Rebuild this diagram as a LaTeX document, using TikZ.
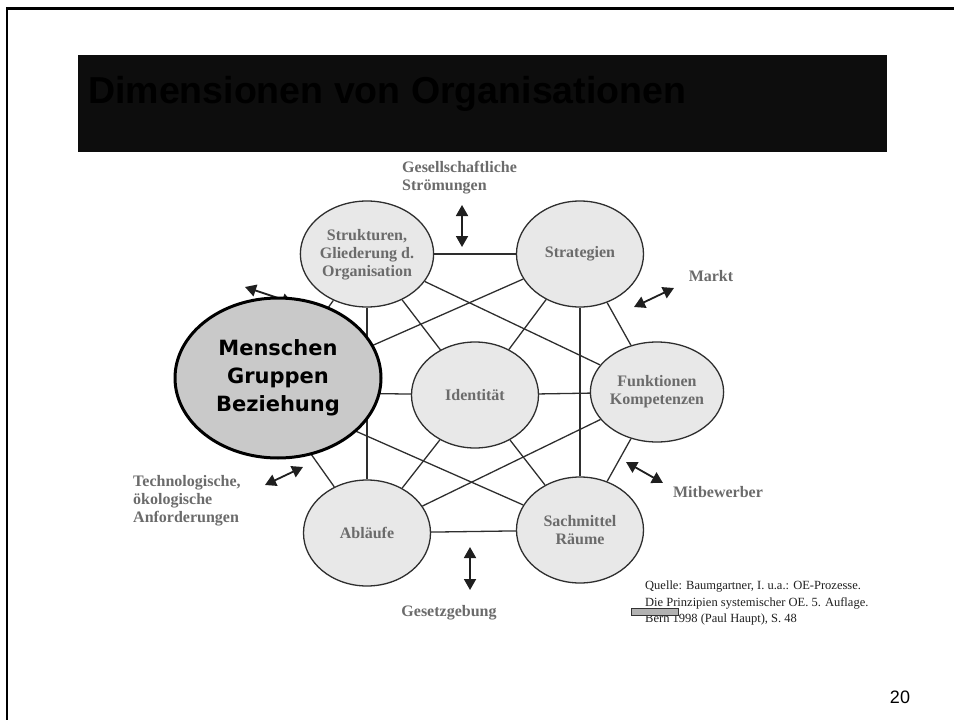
\documentclass[tikz,border=0pt]{standalone}
\usepackage{fontspec}
\setmainfont{Liberation Serif}
\newfontfamily\headfont{Liberation Sans}
\newfontfamily\bigfont{DejaVu Sans}
\usetikzlibrary{shapes.geometric,arrows.meta}

\begin{document}
\begin{tikzpicture}[x=1pt,y=-1pt,
  dim/.style={ellipse, draw=black!82, line width=1.3pt, fill=black!9,
    inner sep=0pt, minimum width=127pt, minimum height=106pt,
    text=black!58, align=center,
    font=\fontsize{16}{18}\selectfont\bfseries},
  core/.style={ellipse, draw=black, line width=3pt, fill=black!21,
    inner sep=0pt, minimum width=206pt, minimum height=160pt,
    text=black, align=center,
    font=\bigfont\fontsize{21}{28}\selectfont\bfseries},
  link/.style={draw=black!82, line width=1.3pt},
  ext/.style={text=black!58, inner sep=0pt, align=left,
    font=\fontsize{16}{18}\selectfont\bfseries},
  pull/.style={line width=1.8pt, draw=black!88,
    {Triangle[length=11pt,width=12pt]}-{Triangle[length=11pt,width=12pt]}},
  note/.style={text=black!88, inner sep=0pt, align=left, anchor=west,
    font=\fontsize{12.5}{16.5}\selectfont}
]
\useasboundingbox (0,0) rectangle (954,720);

% slide frame
\draw[line width=2.4pt] (7,720) -- (7,8.5) -- (954,8.5);

% title bar
\fill[black!95] (78,55) rectangle (887,152);
\node[anchor=base west, inner sep=0pt, text=black,
  font=\headfont\fontsize{37.5}{40}\selectfont\bfseries] (title) at (88,103)
  {Dimensionen von Organisationen};

% the six dimensions around the core
\node[dim] (str)   at (367,254) {\strut Strukturen,\\Gliederung d.\\Organisation};
\node[dim] (strat) at (580,254) {Strategien};
\node[dim] (ide)   at (475,395) {Identität};
\node[dim, minimum height=100pt] (fun) at (657,392) {Funktionen\\Kompetenzen};
\node[dim] (abl)   at (367,533) {Abläufe};
\node[dim] (sach)  at (580,530) {Sachmittel\\Räume};
\coordinate (m0) at (267,392);

% network of relations
\draw[link] (str) -- (strat);
\draw[link] (strat) -- (fun);
\draw[link] (fun) -- (sach);
\draw[link] (sach) -- (abl);
\draw[link] (abl) -- (m0);
\draw[link] (m0) -- (str);
\draw[link] (str) -- (abl);
\draw[link] (strat) -- (sach);
\draw[link] (strat) -- (ide);
\draw[link] (str) -- (ide);
\draw[link] (str) -- (fun);
\draw[link] (strat) -- (m0);
\draw[link] (ide) -- (fun);
\draw[link] (m0) -- (ide);
\draw[link] (ide) -- (sach);
\draw[link] (ide) -- (abl);
\draw[link] (m0) -- (sach);
\draw[link] (fun) -- (abl);

% environment labels
\node[ext, anchor=west] (ges) at (402,177.5) {Gesellschaftliche\\Strömungen};
\node[ext] (markt) at (711,276) {Markt};
\node[ext] (mitb) at (718,492) {Mitbewerber};
\node[ext, anchor=west] (tech) at (133,501) {Technologische,\\ökologische\\Anforderungen};
\node[ext] (gesetz) at (449,613) {Gesetzgebung};

% exchange arrows
\coordinate (g1) at (462,205);  \coordinate (g2) at (462,247);
\coordinate (k1) at (634,307);  \coordinate (k2) at (674,288);
\coordinate (w1) at (626,462);  \coordinate (w2) at (663,483);
\coordinate (z1) at (470,547);  \coordinate (z2) at (470,590);
\coordinate (t1) at (265,485);  \coordinate (t2) at (303,467);
\coordinate (u1) at (245,287);  \coordinate (u2) at (293,303);
\draw[pull] (g1) -- (g2);
\draw[pull] (k1) -- (k2);
\draw[pull] (w1) -- (w2);
\draw[pull] (z1) -- (z2);
\draw[pull] (t1) -- (t2);
\draw[pull] (u1) -- (u2);

% highlighted core dimension
\node[core] (men) at (278,378) {Menschen\\Gruppen\\Beziehung};

% source reference
\node[note] (src) at (645,603)
  {Quelle: Baumgartner, I. u.a.: OE-Prozesse.\\
   Die Prinzipien systemischer OE. 5. Auflage.\\
   Bern 1998 (Paul Haupt), S. 48};
\filldraw[fill=black!30, draw=black!80, line width=0.8pt] (631,608) rectangle (678,615);

% page number
\node[inner sep=0pt, font=\headfont\fontsize{18}{20}\selectfont] (page) at (900,697) {20};
\end{tikzpicture}
\end{document}
